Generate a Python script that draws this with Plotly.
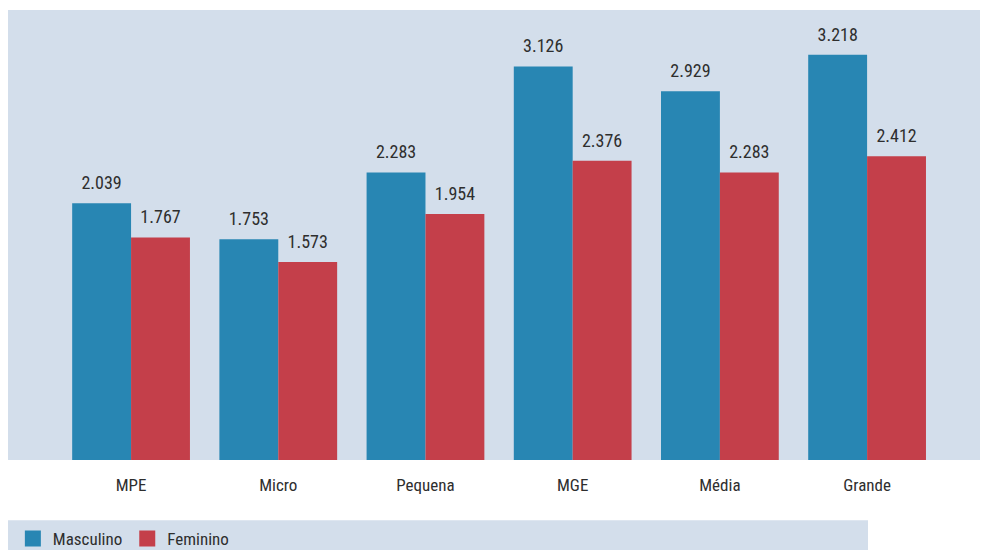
import plotly.graph_objects as go

categorias = ["MPE", "Micro", "Pequena", "MGE", "Média", "Grande"]
masculino = [2039, 1753, 2283, 3126, 2929, 3218]
feminino = [1767, 1573, 1954, 2376, 2283, 2412]
series_nomes = ["Masculino", "Feminino"]

AZUL = "#2886b3"
VERMELHO = "#c43f4a"
FUNDO = "#d3deeb"
TEXTO = "#2e2e2e"
FONTE = "Roboto Condensed, Roboto, sans-serif"

pos = list(range(len(categorias)))
largura = 0.4

fig = go.Figure()
series = [(series_nomes[0], masculino, AZUL, -largura), (series_nomes[1], feminino, VERMELHO, 0.0)]
for nome, vals, cor, desloc in series:
    fig.add_trace(go.Bar(
        x=pos, y=vals, name=nome, marker_color=cor, marker_line_width=0,
        offset=desloc, width=largura, showlegend=False, hoverinfo="y",
    ))
    fig.add_trace(go.Scatter(
        x=[p + desloc + largura / 2 for p in pos], y=vals, mode="markers+text",
        text=[f"{v:,}".replace(",", ".") for v in vals], textposition="top center",
        textfont=dict(family=FONTE, size=18, color=TEXTO),
        marker=dict(size=14, opacity=0), showlegend=False, hoverinfo="skip",
        cliponaxis=False,
    ))
    fig.add_trace(go.Scatter(
        x=[None], y=[None], mode="markers", name=nome,
        marker=dict(symbol="square", size=16, color=cor),
        showlegend=True,
    ))

fig.update_layout(
    width=982, height=550,
    margin=dict(l=8, r=2, t=10, b=90, autoexpand=False),
    paper_bgcolor="white", plot_bgcolor=FUNDO,
    barmode="overlay",
    font=dict(family=FONTE, size=17, color=TEXTO),
    xaxis=dict(range=[-0.836, 5.767], showgrid=False, zeroline=False, showline=False,
               tickvals=pos, ticktext=categorias, automargin=False,
               ticks="", ticklabelstandoff=13, tickfont=dict(size=17, color=TEXTO)),
    yaxis=dict(range=[0, 3574], visible=False, showgrid=False),
    legend=dict(orientation="h", xref="container", yref="container",
                x=0.0131, y=0.02, xanchor="left", yanchor="middle",
                bgcolor="rgba(0,0,0,0)", font=dict(size=17, color=TEXTO),
                itemwidth=30, tracegroupgap=0),
    shapes=[dict(type="rect", xref="paper", yref="paper", x0=0, x1=860/972,
                 y0=-0.2, y1=-0.134, fillcolor=FUNDO, line_width=0, layer="below")],
)

fig.write_html(
    "out.html",
    config={"displayModeBar": False},
    post_script="document.body.style.margin='0';document.body.style.overflow='hidden';",
)
